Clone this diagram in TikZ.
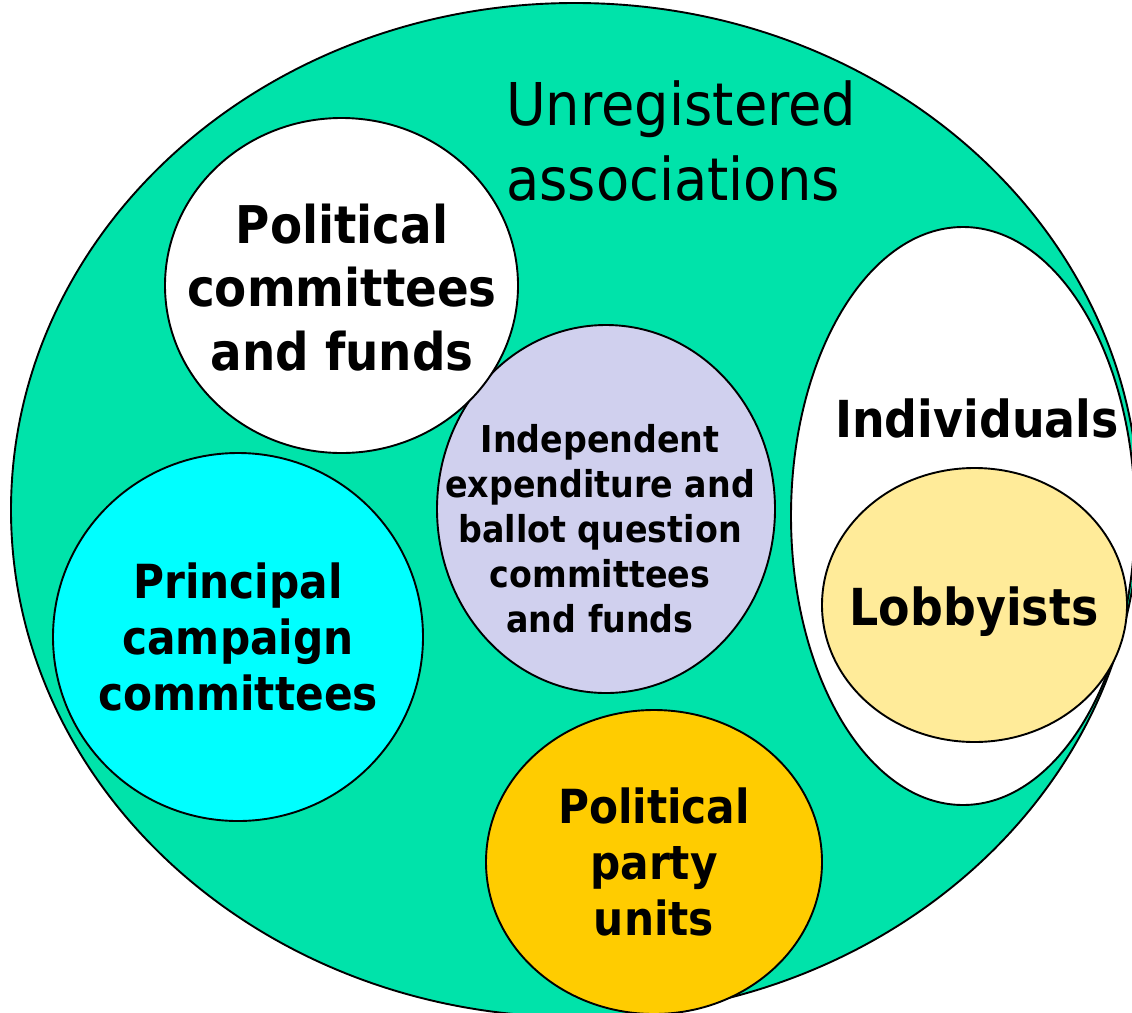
\documentclass[tikz,border=0pt]{standalone}
\usepackage{fontspec}
\newfontfamily\regf[FakeStretch=0.92]{DejaVu Sans}
\newfontfamily\boldf[FakeStretch=0.9]{DejaVu Sans Bold}
\definecolor{outergreen}{RGB}{0,227,170}
\definecolor{lavender}{RGB}{208,208,238}
\definecolor{lightyellow}{RGB}{255,235,153}
\definecolor{gold}{RGB}{255,204,0}
\definecolor{aqua}{RGB}{0,255,255}
\tikzset{
  blob/.style={draw=black, line width=1.9pt},
  lbl/.style={align=center, inner sep=0pt, anchor=base},
}
\begin{document}
\begin{tikzpicture}[x=1pt, y=-1pt]
\useasboundingbox (0,0) rectangle (1132,1012);
\clip (0,0) rectangle (1132,1012);
% outer region
\draw[blob, fill=outergreen] (575,510) ellipse [x radius=564, y radius=507];
% individuals
\draw[blob, fill=white] (963,516) ellipse [x radius=172, y radius=289];
\draw[blob, fill=lightyellow] (974.5,605) ellipse [x radius=152.5, y radius=137];
% independent
\draw[blob, fill=lavender] (606,509) ellipse [x radius=169, y radius=184];
% political committees
\draw[blob, fill=white] (341.5,285.5) ellipse [x radius=176.5, y radius=167.5];
% principal
\draw[blob, fill=aqua] (238,637) ellipse [x radius=185, y radius=184];
% party
\draw[blob, fill=gold] (654,862) ellipse [x radius=168, y radius=152];
% labels
\node[align=left, inner sep=0pt, anchor=base west, font=\regf\fontsize{59}{75}\selectfont] (unreg) at (506,200) {Unregistered\\associations};
\node[lbl, font=\boldf\fontsize{52}{63.5}\selectfont] (polcom) at (342,370) {Political\\committees\\and funds};
\node[lbl, font=\boldf\fontsize{37}{45}\selectfont] (indep) at (600,632) {Independent\\expenditure and\\ballot question\\committees\\and funds};
\node[lbl, font=\boldf\fontsize{47}{56}\selectfont] (princ) at (238,710) {Principal\\campaign\\committees};
\node[lbl, font=\boldf\fontsize{47}{56}\selectfont] (party) at (654,935) {Political\\party\\units};
\node[lbl, font=\boldf\fontsize{51}{60}\selectfont] (indiv) at (977,437) {Individuals};
\node[lbl, font=\boldf\fontsize{51}{60}\selectfont] (lobby) at (974,625) {Lobbyists};
\end{tikzpicture}
\end{document}
